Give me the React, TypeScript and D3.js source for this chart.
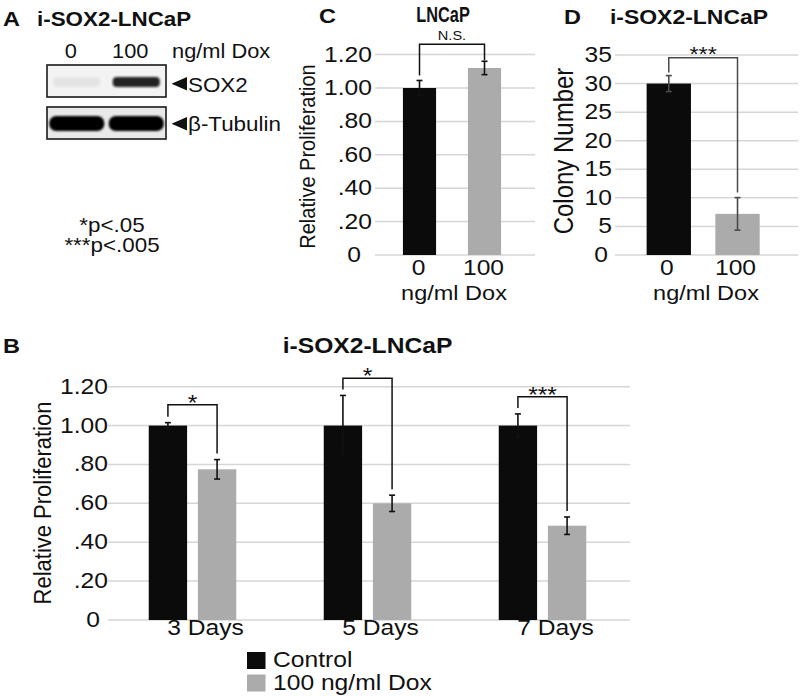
import React from 'react';
import * as d3 from 'd3';

// ---------- data ----------
const days = ["3 Days", "5 Days", "7 Days"];
const seriesNames = ["Control", "100 ng/ml Dox"];
const controlMean = [1.0, 1.0, 1.0];
const controlErr = [0.015, 0.155, 0.06];
const doxMean = [0.775, 0.6, 0.485];
const doxErr = [0.05, 0.042, 0.045];
const bSig = ["*", "*", "***"];
const bBracket = [1.107, 1.243, 1.148];
const prolifTicks = [0, 0.2, 0.4, 0.6, 0.8, 1.0, 1.2];

const cGroups = ["0", "100"];
const cMean = [1.0, 1.12];
const cErr = [0.045, 0.04];
const cSig = "N.S.";
const cBracket = 1.262;

const dGroups = ["0", "100"];
const dMean = [30, 7.2];
const dErr = [1.4, 2.85];
const dTicks = [0, 5, 10, 15, 20, 25, 30, 35];
const dSig = "***";
const dBracket = 34.5;

const blotLanes = ["0", "100"];
const sox2Intensity = [0.06, 0.9];
const tubulinIntensity = [1, 1];
const pLegend = ["*p<.05", "***p<.005"];

// ---------- style ----------
const SX = 1.12;
const FONT = "'Liberation Sans', Arial, Helvetica, sans-serif";
const BLACK = "#0b0b0b";
const GRAY = "#ababab";
const GRID = "#d6d6d6";

function T(props: any) {
  const { x, y, size, anchor = 'start', weight = 'normal', rotate = false, sx = SX, fill = '#111', children } = props;
  const tr = `translate(${x},${y}) scale(${sx},1)${rotate ? ' rotate(-90)' : ''}`;
  return (
    <text transform={tr} fontSize={size} textAnchor={anchor} fontWeight={weight} fill={fill} fontFamily={FONT}>
      {children}
    </text>
  );
}

const fmtProlif = (v: number) => (v === 0 ? "0" : d3.format(".2f")(v).replace(/^0/, ""));

function ErrorBar({ x, y1, y2, color, cap = 6, sw = 1.6 }: any) {
  return (
    <g stroke={color} strokeWidth={sw}>
      <line x1={x} x2={x} y1={y1} y2={y2} />
      <line x1={x - cap / 2} x2={x + cap / 2} y1={y1} y2={y1} />
      <line x1={x - cap / 2} x2={x + cap / 2} y1={y2} y2={y2} />
    </g>
  );
}

function PanelA() {
  const lane = d3.scaleBand().domain(blotLanes).range([47, 166]).paddingInner(0.04).paddingOuter(0.02);
  const soxY = 65, soxH = 32, tubY = 107, tubH = 32;
  return (
    <g>
      <T x={3} y={26} size={21} weight="bold">A</T>
      <T x={37} y={26} size={20} weight="bold">i-SOX2-LNCaP</T>
      {blotLanes.map((l) => (
        <T key={l} x={(lane(l) as number) + lane.bandwidth() / 2 - 6} y={58} size={19.5} anchor="middle">{l}</T>
      ))}
      <T x={172} y={58} size={19.5}>ng/ml Dox</T>
      {/* SOX2 blot */}
      <rect x={47} y={soxY} width={119} height={soxH} fill="#f3f3f3" stroke="#1a1a1a" strokeWidth={1.6} />
      {blotLanes.map((l, i) => (
        <rect key={l} x={(lane(l) as number) + 5} y={soxY + 12} width={lane.bandwidth() - 10} height={10} rx={4}
          fill="#111" opacity={sox2Intensity[i]} filter="url(#blur)" />
      ))}
      <path d={`M171.5,83.7 L187,77 L187,90.4 Z`} fill="#111" />
      <T x={188} y={91.5} size={20}>SOX2</T>
      {/* tubulin blot */}
      <rect x={47} y={tubY} width={119} height={tubH} fill="#e9e9e9" stroke="#1a1a1a" strokeWidth={1.6} />
      {blotLanes.map((l, i) => (
        <rect key={l} x={(lane(l) as number) + 1} y={tubY + 9} width={lane.bandwidth() - 2} height={15} rx={7}
          fill="#050505" opacity={tubulinIntensity[i]} filter="url(#blur)" />
      ))}
      <path d={`M171.5,123.7 L187,117 L187,130.4 Z`} fill="#111" />
      <T x={188} y={130.5} size={20}>β-Tubulin</T>
      {pLegend.map((p, i) => (
        <T key={p} x={112} y={231.5 + i * 20} size={20} anchor="middle">{p}</T>
      ))}
    </g>
  );
}

function PanelB() {
  const y = d3.scaleLinear().domain([0, 1.2]).range([620, 386.7]);
  const x = d3.scaleBand().domain(days).range([105, 630]).paddingInner(0.5).paddingOuter(0.25);
  const inner = d3.scaleBand().domain(seriesNames).range([0, x.bandwidth()]).paddingInner(0.22);
  const means = [controlMean, doxMean];
  const errs = [controlErr, doxErr];
  const colors = [BLACK, GRAY];
  const bw = inner.bandwidth();
  return (
    <g>
      <T x={3} y={353} size={21} weight="bold">B</T>
      <T x={367.5} y={353} size={22} weight="bold" anchor="middle">i-SOX2-LNCaP</T>
      {prolifTicks.map((t) => (
        <g key={t}>
          <line x1={108} x2={630} y1={y(t)} y2={y(t)} stroke={GRID} strokeWidth={1.5} />
          <T x={t === 0 ? 100 : 108} y={y(t) + 7} size={22} anchor="end">{fmtProlif(t)}</T>
        </g>
      ))}
      <T x={51} y={503} size={22} anchor="middle" rotate>Relative Proliferation</T>
      {days.map((d, i) => (
        <g key={d}>
          {seriesNames.map((s, k) => {
            const bx = (x(d) as number) + (inner(s) as number);
            return <rect key={s} x={bx} y={y(means[k][i])} width={bw} height={620 - y(means[k][i])} fill={colors[k]} />;
          })}
          {seriesNames.map((s, k) => {
            const cx = (x(d) as number) + (inner(s) as number) + bw / 2;
            return <ErrorBar key={s} x={cx} y1={y(means[k][i] + errs[k][i])} y2={y(means[k][i] - errs[k][i])} color="#111" />;
          })}
          {(() => {
            const lx = (x(d) as number) + (inner(seriesNames[0]) as number) + bw / 2;
            const rx = (x(d) as number) + (inner(seriesNames[1]) as number) + bw / 2;
            const yb = y(bBracket[i]);
            const lb = y(controlMean[i] + controlErr[i]) - 6;
            const rb = y(doxMean[i] + doxErr[i]) - 6;
            return (
              <g>
                <path d={`M${lx},${lb} V${yb} H${rx} V${rb}`} fill="none" stroke="#111" strokeWidth={1.5} />
                <T x={(lx + rx) / 2} y={yb + 5} size={22} anchor="middle">{bSig[i]}</T>
              </g>
            );
          })()}
          <T x={(x(d) as number) + x.bandwidth() / 2 + 13} y={635} size={22} anchor="middle">{d}</T>
        </g>
      ))}
      {seriesNames.map((s, k) => (
        <g key={s}>
          <rect x={247} y={652 + k * 22.5} width={18.5} height={17} fill={colors[k]} />
          <T x={273} y={667 + k * 23} size={22}>{s}</T>
        </g>
      ))}
    </g>
  );
}

function PanelC() {
  const y = d3.scaleLinear().domain([0, 1.2]).range([255, 54.6]);
  const x = d3.scaleBand().domain(cGroups).range([387, 517]).paddingInner(0.49).paddingOuter(0.245);
  const colors = [BLACK, GRAY];
  const bw = x.bandwidth();
  const cx = (g: string) => (x(g) as number) + bw / 2;
  const yb = y(cBracket);
  return (
    <g>
      <T x={319} y={23} size={21} weight="bold">C</T>
      <T x={443} y={21.5} size={21.5} weight="bold" anchor="middle" sx={0.76}>LNCaP</T>
      {prolifTicks.map((t) => (
        <g key={t}>
          <line x1={375} x2={535} y1={y(t)} y2={y(t)} stroke={GRID} strokeWidth={1.5} />
          <T x={t === 0 ? 361 : 372} y={y(t) + 7} size={22} anchor="end">{fmtProlif(t)}</T>
        </g>
      ))}
      <T x={315} y={156.5} size={20} anchor="middle" rotate>Relative Proliferation</T>
      {cGroups.map((g, i) => (
        <rect key={g} x={x(g)} y={y(cMean[i])} width={bw} height={255 - y(cMean[i])} fill={colors[i]} />
      ))}
      {cGroups.map((g, i) => (
        <ErrorBar key={g} x={cx(g)} y1={y(cMean[i] + cErr[i])} y2={y(cMean[i] - cErr[i])} color="#111" />
      ))}
      <path d={`M${cx(cGroups[0])},${y(cMean[0] + cErr[0]) - 5} V${yb} H${cx(cGroups[1])} V${y(cMean[1] + cErr[1]) - 1}`}
        fill="none" stroke="#111" strokeWidth={1.5} />
      <T x={(cx(cGroups[0]) + cx(cGroups[1])) / 2} y={yb - 4} size={13} anchor="middle">{cSig}</T>
      {cGroups.map((g) => (
        <T key={g} x={cx(g) - 1} y={275} size={22} anchor="middle">{g}</T>
      ))}
      <T x={454} y={300} size={21} anchor="middle">ng/ml Dox</T>
    </g>
  );
}

function PanelD() {
  const y = d3.scaleLinear().domain([0, 35]).range([255, 55]);
  const x = d3.scaleBand().domain(dGroups).range([626, 780.3]).paddingInner(0.355).paddingOuter(0.3);
  const colors = [BLACK, GRAY];
  const bw = x.bandwidth();
  const cx = (g: string) => (x(g) as number) + bw / 2;
  const yb = y(dBracket);
  return (
    <g>
      <T x={564} y={24} size={21} weight="bold">D</T>
      <T x={689} y={24} size={20.5} weight="bold" anchor="middle">i-SOX2-LNCaP</T>
      {dTicks.map((t) => (
        <g key={t}>
          <line x1={615} x2={798} y1={y(t)} y2={y(t)} stroke={GRID} strokeWidth={1.5} />
          <T x={t === 0 ? 608 : 612} y={y(t) + 7} size={22} anchor="end">{t}</T>
        </g>
      ))}
      <T x={573} y={151} size={24} anchor="middle" rotate>Colony Number</T>
      {dGroups.map((g, i) => (
        <rect key={g} x={x(g)} y={y(dMean[i])} width={bw} height={255 - y(dMean[i])} fill={colors[i]} />
      ))}
      {dGroups.map((g, i) => (
        <ErrorBar key={g} x={cx(g)} y1={y(dMean[i] + dErr[i])} y2={y(dMean[i] - dErr[i])} color="#4a4a4a" />
      ))}
      <path d={`M${cx(dGroups[0])},${y(dMean[0] + dErr[0]) - 3} V${yb} H${cx(dGroups[1])} V${y(dMean[1] + dErr[1]) - 5}`}
        fill="none" stroke="#4a4a4a" strokeWidth={1.5} />
      <T x={(cx(dGroups[0]) + cx(dGroups[1])) / 2} y={yb + 3} size={21} anchor="middle">{dSig}</T>
      {dGroups.map((g) => (
        <T key={g} x={cx(g) - 2} y={275} size={22} anchor="middle">{g}</T>
      ))}
      <T x={706} y={300} size={21} anchor="middle">ng/ml Dox</T>
    </g>
  );
}

export default function App() {
  return (
    <svg width={800} height={696} style={{ position: 'absolute', left: 0, top: 0, background: '#fff' }}>
      <defs>
        <filter id="blur" x="-20%" y="-50%" width="140%" height="200%">
          <feGaussianBlur stdDeviation="1.3" />
        </filter>
      </defs>
      <rect width={800} height={696} fill="#fff" />
      <PanelA />
      <PanelB />
      <PanelC />
      <PanelD />
    </svg>
  );
}
